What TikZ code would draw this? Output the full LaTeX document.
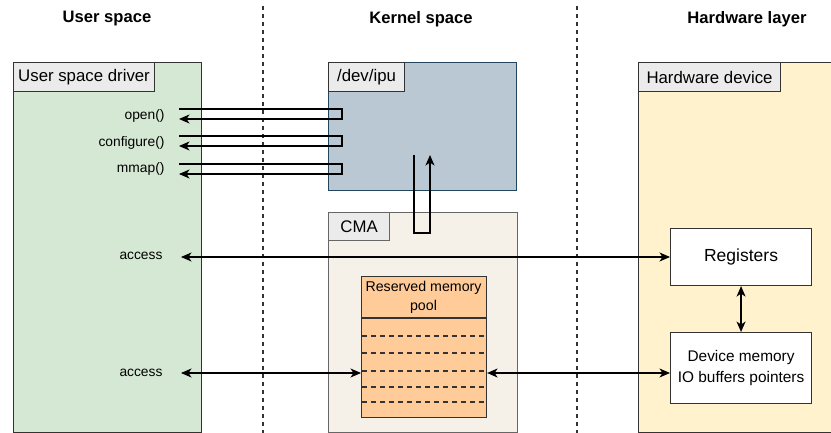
\documentclass[tikz,border=0pt]{standalone}
\usepackage{fontspec}
\setmainfont{Liberation Sans}
\usetikzlibrary{arrows.meta}

\definecolor{greenfill}{HTML}{D5E8D4}
\definecolor{bluefill}{HTML}{BAC8D3}
\definecolor{bluedraw}{HTML}{23445D}
\definecolor{cmafill}{HTML}{F5F0E8}
\definecolor{poolfill}{HTML}{FFCC99}
\definecolor{hwfill}{HTML}{FFF2CC}
\definecolor{tabfill}{HTML}{EBEBEB}
\definecolor{darkline}{HTML}{333333}

\tikzset{
  box/.style={draw=darkline, line width=1.1pt, anchor=north west, inner sep=0pt, rectangle},
  tabbox/.style={box, fill=tabfill, font=\fontsize{16.8}{18}\selectfont},
  tip/.style={-{Stealth[length=10.5pt,width=9pt,inset=3pt]}},
  bitip/.style={{Stealth[length=10.5pt,width=9pt,inset=3pt]}-{Stealth[length=10.5pt,width=9pt,inset=3pt]}},
  wire/.style={line width=1.3pt, black},
  divider/.style={line width=1.2pt, darkline, dash pattern=on 4pt off 4pt},
  slot/.style={line width=1.1pt, darkline, dash pattern=on 5pt off 4pt},
  title/.style={font=\bfseries\fontsize{16.6}{18}\selectfont},
  fn/.style={font=\fontsize{13.8}{16}\selectfont, anchor=east},
  small/.style={font=\fontsize{13.8}{16}\selectfont},
}

\begin{document}
\begin{tikzpicture}[x=1pt,y=-1pt]
\useasboundingbox (0,0) rectangle (831,433);

% column titles
\node[title] (t1) at (107,19) {User space};
\node[title] (t2) at (421,19) {Kernel space};
\node[title] (t3) at (747,19) {Hardware layer};

% column separators
\draw[divider] (263,6) -- (263,433);
\draw[divider] (577,6) -- (577,433);

% user space driver
\node[box, fill=greenfill, minimum width=188pt, minimum height=370pt] (usr) at (13,62) {};
\node[tabbox, minimum width=141pt, minimum height=29pt] (usrtab) at (13,62) {User space driver};

% /dev/ipu
\node[box, draw=bluedraw, fill=bluefill, minimum width=188pt, minimum height=128pt] (ipu) at (328,62) {};
\node[tabbox, minimum width=76pt, minimum height=29pt] (iputab) at (328,62) {/dev/ipu};

% CMA
\node[box, draw=black!60, fill=cmafill, minimum width=189pt, minimum height=220pt] (cma) at (328,212) {};
\node[tabbox, draw=black!60, minimum width=61pt, minimum height=28pt] (cmatab) at (328,212) {CMA};

% reserved memory pool
\node[box, fill=poolfill, minimum width=125pt, minimum height=141pt] (pool) at (361,276) {};
\draw[line width=1.1pt, darkline] (361,318) -- (486,318);
\node[font=\fontsize{14.2}{16}\selectfont, align=center] (pooltxt) at (423.5,297) {Reserved memory\\[3pt]pool};
\foreach \y in {336,353,371,387,402}
  \draw[slot] (362,\y) -- (486,\y);

% hardware device
\node[box, fill=hwfill, minimum width=200pt, minimum height=370pt] (hw) at (638,62) {};
\node[tabbox, minimum width=142pt, minimum height=29pt] (hwtab) at (638,62) {Hardware device};

\node[box, fill=white, minimum width=141pt, minimum height=57pt, font=\fontsize{17.5}{18}\selectfont] (reg) at (670,228) {Registers};
\node[box, fill=white, minimum width=141pt, minimum height=71pt, align=center, font=\fontsize{15.4}{21}\selectfont] (devmem) at (670,332) {Device memory\\IO buffers pointers};

% call labels
\node[fn] (lopen) at (168,116) {open()};
\node[fn] (lconf) at (168,143) {configure()};
\node[fn] (lmmap) at (168,169) {mmap()};
\node[small] (acc1) at (141,256) {access};
\node[small] (acc2) at (141,373) {access};

% call round trips into /dev/ipu
\coordinate (o1) at (179,109);
\coordinate (o2) at (179,136);
\coordinate (o3) at (179,164);
\foreach \c in {o1,o2,o3}
  \draw[wire, tip] (\c) -- ++(163,0) -- ++(0,10) -- ++(-163,0);

% CMA to /dev/ipu
\coordinate (up) at (414,155);
\draw[wire, tip] (up) -- (414,233) -- (430,233) -- (430,155);

% register access
\coordinate (a1) at (181,257);
\draw[wire, bitip] (a1) -- (a1 -| reg.west);

% memory access
\coordinate (a2) at (181,373);
\draw[wire, bitip] (a2) -- (a2 -| pool.west);
\draw[wire, bitip] (pool.east |- a2) -- (a2 -| devmem.west);

% registers <-> device memory
\draw[wire, bitip] (reg.south) -- (devmem.north);
\end{tikzpicture}
\end{document}
